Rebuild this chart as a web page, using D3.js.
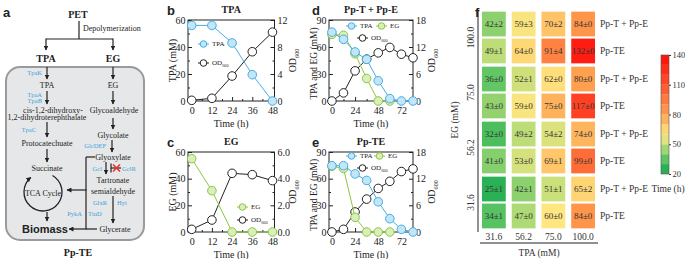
<!DOCTYPE html>
<html>
<head>
<meta charset="utf-8">
<script src="https://cdn.jsdelivr.net/npm/d3@7"></script>
<style>
body { margin: 0; background: #fff; }
svg { display: block; font-family: "Liberation Serif", "DejaVu Serif", serif; }
</style>
</head>
<body>
<div id="chart"></div>
<script>
// ---- data: growth curves (b-e) ----
const timeBC = [0, 12, 24, 36, 48];
const tpaB = [56, 56, 43, 19.5, 0];
const odB = [0.1, 0.4, 3.7, 7.3, 10.2];
const egC = [55, 31, 0, 0, 0];
const odC = [0.2, 0.9, 4.4, 4.3, 3.85];

const timeDE = [0, 12, 24, 36, 48, 60, 72, 84];
const tpaD = [76.5, 68.5, 54.5, 46.3, 22.5, 2.6, 0, 0];
const egD = [74, 73, 52.5, 25, 0, 0];
const odD = [0, 1.8, 6.7, 9.3, 10.7, 11.9, 10.4, 9.6];
const tpaE = [74.6, 74.6, 65.4, 58, 34, 15, 3, 0];
const egE = [74, 71.6, 16.5, 0, 0, 0];
const odE = [0, 0.6, 4.5, 7.4, 9.8, 11.4, 13.6, 14.2];

// ---- data: heatmap (f) ----
const tpaLevels = ["31.6", "56.2", "75.0", "100.0"];
const egLevels = ["100.0", "75.0", "56.2", "31.6"];
const strains = ["Pp-T + Pp-E", "Pp-TE"];
// one row per (EG level, strain), columns follow tpaLevels
const timeMean = [
  [42, 59, 70, 84], [49, 64, 91, 132],
  [36, 52, 62, 80], [43, 59, 75, 117],
  [32, 49, 54, 74], [41, 53, 69, 99],
  [25, 42, 51, 65], [34, 47, 60, 84]
];
const timeSd = [
  [2, 3, 2, 0], [1, 0, 4, 0],
  [0, 1, 0, 0], [0, 0, 0, 0],
  [0, 2, 2, 0], [0, 0, 1, 0],
  [1, 1, 1, 2], [1, 0, 0, 0]
];
const colorTicks = [20, 50, 80, 110, 140];

const W = 685, H = 259;
const blue = "#45aee2", blueFill = "#c2e5f7";
const green = "#8dc641", greenFill = "#d8eebb";
const ink = "#222";
const serif = '"Liberation Serif", "DejaVu Serif", serif';
const sans = '"Liberation Sans", Arial, sans-serif';

const svg = d3.select("#chart").append("svg")
  .attr("width", W).attr("height", H)
  .attr("viewBox", [0, 0, W, H]);

const defs = svg.append("defs");
defs.append("marker")
  .attr("id", "arr")
  .attr("viewBox", "0 0 10 10")
  .attr("refX", 9).attr("refY", 5)
  .attr("markerWidth", 5).attr("markerHeight", 5)
  .attr("markerUnits", "userSpaceOnUse")
  .attr("orient", "auto")
  .append("path").attr("d", "M0,0 L10,5 L0,10 z").attr("fill", ink);

function txt(g, x, y, s, o = {}) {
  return g.append("text")
    .attr("x", x).attr("y", y)
    .attr("text-anchor", o.anchor || "middle")
    .attr("dominant-baseline", "central")
    .style("font-family", o.family || serif)
    .style("font-size", (o.size || 8) + "px")
    .style("font-weight", o.bold ? "bold" : "normal")
    .style("fill", o.fill || ink)
    .text(s);
}
function arrow(g, x1, y1, x2, y2) {
  g.append("line").attr("x1", x1).attr("y1", y1).attr("x2", x2).attr("y2", y2)
    .attr("stroke", ink).attr("stroke-width", 1.2).attr("marker-end", "url(#arr)");
}
function seg(g, x1, y1, x2, y2, c = ink, w = 1.2) {
  g.append("line").attr("x1", x1).attr("y1", y1).attr("x2", x2).attr("y2", y2)
    .attr("stroke", c).attr("stroke-width", w);
}

// ================= panel a: pathway =================
const ga = svg.append("g");
txt(ga, 3, 12, "a", { family: sans, size: 13, bold: true, anchor: "start" });
txt(ga, 78, 14, "PET", { size: 10, bold: true });
seg(ga, 79, 21, 79, 39);
txt(ga, 83, 28, "Depolymerization", { size: 8, anchor: "start" });
seg(ga, 46, 39, 113, 39);
arrow(ga, 46, 38.4, 46, 50);
arrow(ga, 113, 38.4, 113, 50);
txt(ga, 46, 58, "TPA", { size: 10, bold: true });
txt(ga, 113, 58, "EG", { size: 10, bold: true });

ga.append("rect").attr("x", 6).attr("y", 67).attr("width", 138).attr("height", 173)
  .attr("rx", 14).attr("fill", "#e6e7e8").attr("stroke", "#9a9a9a").attr("stroke-width", 2);

const bl = { size: 6.5, fill: "#3ea3dc", anchor: "end" };
// TPA branch
txt(ga, 42, 72, "TpaK", bl);
arrow(ga, 47, 67, 47, 79);
txt(ga, 47, 85, "TPA", { size: 8 });
txt(ga, 42, 94, "TpaA", bl);
txt(ga, 42, 100, "TpaB", bl);
arrow(ga, 47, 91, 47, 104);
txt(ga, 53, 110, "cis-1,2-dihydroxy-", { size: 8 });
txt(ga, 47, 117.5, "1,2-dihydroterephthalate", { size: 8 });
txt(ga, 36, 129, "TpaC", bl);
arrow(ga, 47, 122, 47, 137);
txt(ga, 47, 143, "Protocatechuate", { size: 8 });
arrow(ga, 47, 149, 47, 162);
txt(ga, 47, 168, "Succinate", { size: 8 });

// TCA cycle ring
const cx = 43, cy = 192, r = 19;
const a0 = 30 * Math.PI / 180, a1 = -40 * Math.PI / 180;
ga.append("path")
  .attr("d", `M${cx + r * Math.sin(a0)},${cy - r * Math.cos(a0)} A${r},${r} 0 1 1 ${cx + r * Math.sin(a1)},${cy - r * Math.cos(a1)}`)
  .attr("fill", "none").attr("stroke", ink).attr("stroke-width", 1.3)
  .attr("marker-end", "url(#arr)");
txt(ga, 43, 193, "TCA Cycle", { size: 8 });
arrow(ga, 47, 212, 47, 221);
txt(ga, 45, 229, "Biomass", { family: sans, size: 11, bold: true });

// EG branch
arrow(ga, 113, 67, 113, 79);
txt(ga, 113, 85, "EG", { size: 8 });
arrow(ga, 113, 91, 113, 104);
txt(ga, 114, 110, "Glycoaldehyde", { size: 8 });
arrow(ga, 113, 118, 113, 129);
txt(ga, 113, 135, "Glycolate", { size: 8 });
txt(ga, 106, 145, "GlcDEF", bl);
arrow(ga, 112, 140, 112, 152);
txt(ga, 113, 157, "Glyoxylate", { size: 8 });
seg(ga, 86, 157, 95, 157);
seg(ga, 86, 157, 86, 229);
txt(ga, 102, 168, "Gcl", bl);
arrow(ga, 106, 162, 106, 174);
seg(ga, 111, 163.5, 111, 172.5);
seg(ga, 111, 168, 121, 168);
seg(ga, 113, 164.5, 120, 171.5, "#e8322b", 1.6);
seg(ga, 113, 171.5, 120, 164.5, "#e8322b", 1.6);
txt(ga, 122, 168, "GclR", { size: 6.5, fill: "#3ea3dc", anchor: "start" });
txt(ga, 113, 180, "Tartronate", { size: 8 });
txt(ga, 113, 191, "semialdehyde", { size: 8 });
arrow(ga, 86.6, 190, 67, 190);
txt(ga, 107, 202, "GlxR", bl);
txt(ga, 117, 202, "Hyi", { size: 6.5, fill: "#3ea3dc", anchor: "start" });
arrow(ga, 113, 196, 113, 223);
txt(ga, 82, 213, "PykA", bl);
txt(ga, 88, 213, "TtuD", { size: 6.5, fill: "#3ea3dc", anchor: "start" });
txt(ga, 115, 229, "Glycerate", { size: 8 });
seg(ga, 86, 229, 97, 229);
arrow(ga, 86.6, 229, 69, 229);
txt(ga, 78, 252, "Pp-TE", { size: 10, bold: true });

// ================= panels b-e: growth curves =================
function subOD(sel, size) {
  sel.text("OD");
  sel.append("tspan").attr("dy", size * 0.35).style("font-size", (size * 0.62) + "px").text("600");
}

function linePanel(p) {
  const g = svg.append("g");
  const x = d3.scaleLinear().domain(p.xDomain).range([p.left, p.right]);
  const yL = d3.scaleLinear().domain([0, p.yLMax]).range([p.bottom, p.top]);
  const yR = d3.scaleLinear().domain([0, p.yRMax]).range([p.bottom, p.top]);

  const styleAxis = a => {
    a.select(".domain").remove();
    a.selectAll("line").attr("stroke", ink);
    a.selectAll("text").style("font-family", serif).style("font-size", "10px").attr("fill", ink);
  };
  const minor = ticks => ticks.slice(0, -1).map((t, i) => (t + ticks[i + 1]) / 2);

  g.append("g").attr("transform", `translate(0,${p.bottom})`)
    .call(d3.axisBottom(x).tickValues(p.xTicks).tickSize(-4).tickPadding(6)).call(styleAxis);
  g.append("g").attr("transform", `translate(0,${p.bottom})`)
    .call(d3.axisBottom(x).tickValues(p.xMinor).tickSize(-2).tickFormat("")).call(styleAxis);
  g.append("g").attr("transform", `translate(${p.left},0)`)
    .call(d3.axisLeft(yL).tickValues(p.yLTicks).tickSize(-4).tickPadding(2.5)).call(styleAxis);
  g.append("g").attr("transform", `translate(${p.left},0)`)
    .call(d3.axisLeft(yL).tickValues(minor(p.yLTicks)).tickSize(-2).tickFormat("")).call(styleAxis);
  g.append("g").attr("transform", `translate(${p.right},0)`)
    .call(d3.axisRight(yR).tickValues(p.yRTicks).tickSize(-4).tickPadding(3)).call(styleAxis);
  g.append("g").attr("transform", `translate(${p.right},0)`)
    .call(d3.axisRight(yR).tickValues(minor(p.yRTicks)).tickSize(-2).tickFormat("")).call(styleAxis);

  g.append("rect").attr("x", p.left).attr("y", p.top)
    .attr("width", p.right - p.left).attr("height", p.bottom - p.top)
    .attr("fill", "none").attr("stroke", ink).attr("stroke-width", 1);

  // series
  p.series.forEach(s => {
    const y = s.axis === "right" ? yR : yL;
    const pts = s.values.map((v, i) => [p.time[i], v]);
    g.append("path").datum(pts)
      .attr("fill", "none").attr("stroke", s.color).attr("stroke-width", 1)
      .attr("d", d3.line().x(d => x(d[0])).y(d => y(d[1])));
    g.selectAll(null).data(pts).join("circle")
      .attr("cx", d => x(d[0])).attr("cy", d => y(d[1])).attr("r", 4.3)
      .attr("fill", s.fill).attr("stroke", s.color).attr("stroke-width", 1);
  });

  // labels
  const mx = (p.left + p.right) / 2, my = (p.top + p.bottom) / 2;
  txt(g, p.letterX, p.top - 10, p.letter, { family: sans, size: 13, bold: true, anchor: "start" });
  txt(g, mx, p.top - 11, p.title, { size: 10, bold: true });
  txt(g, mx, p.bottom + 22, "Time (h)", { size: 10 });
  txt(g, 0, 0, p.yLabel, { size: p.yLabelSize || 10 })
    .attr("transform", `translate(${p.left - p.yLabelOff},${my + (p.yLabelShift || 0)}) rotate(-90)`);
  txt(g, 0, 0, "", { size: 10 })
    .attr("transform", `translate(${p.right + 18},${my}) rotate(-90)`)
    .call(s => subOD(s, 10));

  // legend
  p.legend.forEach(l => {
    seg(g, l.x, l.y, l.x + 11, l.y, l.color, 1);
    g.append("circle").attr("cx", l.x + 5.5).attr("cy", l.y).attr("r", 3.3)
      .attr("fill", l.fill).attr("stroke", l.color).attr("stroke-width", 1);
    const t = txt(g, l.x + 14, l.y, "", { size: 7, anchor: "start" });
    if (l.od) subOD(t, 7); else t.text(l.label);
  });
}

const tpaS = v => ({ values: v, axis: "left", color: blue, fill: blueFill });
const egS = v => ({ values: v, axis: "left", color: green, fill: greenFill });
const odS = v => ({ values: v, axis: "right", color: ink, fill: "#fff" });

linePanel({
  letter: "b", letterX: 167, title: "TPA", yLabel: "TPA (mM)", yLabelOff: 16,
  left: 188, right: 274.5, top: 20, bottom: 101,
  xDomain: [-2.2, 49.2], xTicks: [0, 12, 24, 36, 48], xMinor: [6, 18, 30, 42],
  yLMax: 60, yLTicks: [0, 20, 40, 60], yRMax: 12, yRTicks: [0, 4, 8, 12],
  time: timeBC,
  series: [odS(odB), tpaS(tpaB)],
  legend: [
    { x: 198, y: 44, color: blue, fill: blueFill, label: "TPA" },
    { x: 198, y: 63, color: ink, fill: "#fff", od: true }
  ]
});
linePanel({
  letter: "c", letterX: 167, title: "EG", yLabel: "EG (mM)", yLabelOff: 16,
  left: 188, right: 274.5, top: 152, bottom: 232,
  xDomain: [-2.2, 49.2], xTicks: [0, 12, 24, 36, 48], xMinor: [6, 18, 30, 42],
  yLMax: 60, yLTicks: [0, 20, 40, 60], yRMax: 6, yRTicks: [0, 2, 4, 6],
  time: timeBC,
  series: [odS(odC), egS(egC)],
  legend: [
    { x: 237, y: 207, color: green, fill: greenFill, label: "EG" },
    { x: 237, y: 220, color: ink, fill: "#fff", od: true }
  ]
});
linePanel({
  letter: "d", letterX: 312, title: "Pp-T + Pp-E", yLabel: "TPA and EG (mM)",
  yLabelOff: 15, yLabelSize: 9.5, yLabelShift: 3,
  left: 329, right: 413, top: 20, bottom: 101,
  xDomain: [-3, 84], xTicks: [0, 24, 48, 72], xMinor: [12, 36, 60, 84],
  yLMax: 90, yLTicks: [0, 30, 60, 90], yRMax: 18, yRTicks: [0, 6, 12, 18],
  time: timeDE,
  series: [odS(odD), egS(egD), tpaS(tpaD)],
  legend: [
    { x: 346, y: 26, color: blue, fill: blueFill, label: "TPA" },
    { x: 376, y: 26, color: green, fill: greenFill, label: "EG" },
    { x: 357, y: 38, color: ink, fill: "#fff", od: true }
  ]
});
linePanel({
  letter: "e", letterX: 312, title: "Pp-TE", yLabel: "TPA and EG (mM)",
  yLabelOff: 15, yLabelSize: 9.5, yLabelShift: 3,
  left: 329, right: 413, top: 152, bottom: 232,
  xDomain: [-3, 84], xTicks: [0, 24, 48, 72], xMinor: [12, 36, 60, 84],
  yLMax: 90, yLTicks: [0, 30, 60, 90], yRMax: 18, yRTicks: [0, 6, 12, 18],
  time: timeDE,
  series: [odS(odE), egS(egE), tpaS(tpaE)],
  legend: [
    { x: 346, y: 156, color: blue, fill: blueFill, label: "TPA" },
    { x: 374, y: 156, color: green, fill: greenFill, label: "EG" },
    { x: 357, y: 168, color: ink, fill: "#fff", od: true }
  ]
});

// ================= panel f: heatmap =================
const gf = svg.append("g");
txt(gf, 475, 12, "f", { family: sans, size: 13, bold: true, anchor: "start" });

const color = d3.scaleLinear()
  .domain([20, 35, 50, 60, 80, 100, 120, 140])
  .range(["#12a84e", "#5cc462", "#c3df7a", "#ffe680", "#ffa050", "#ff6a36", "#ff3a20", "#ff0a0a"])
  .clamp(true);

const xCol = d3.scaleBand().domain(tpaLevels).range([479, 598]).paddingInner(0.2).paddingOuter(0.1);
const yGroup = d3.scaleBand().domain(egLevels).range([10, 230]).paddingInner(0.06).paddingOuter(0.03);
const yRow = d3.scaleBand().domain(strains).range([0, yGroup.bandwidth()]).paddingInner(0.08);

const cells = [];
egLevels.forEach((eg, gi) => strains.forEach((st, si) => tpaLevels.forEach((tp, ci) => {
  const r = gi * 2 + si;
  cells.push({ eg, st, tp, m: timeMean[r][ci], sd: timeSd[r][ci] });
})));

const cell = gf.selectAll(".cell").data(cells).join("g").attr("class", "cell");
cell.append("rect")
  .attr("x", d => xCol(d.tp))
  .attr("y", d => yGroup(d.eg) + yRow(d.st))
  .attr("width", xCol.bandwidth())
  .attr("height", yRow.bandwidth())
  .attr("fill", d => color(d.m));
cell.append("text")
  .attr("x", d => xCol(d.tp) + xCol.bandwidth() / 2)
  .attr("y", d => yGroup(d.eg) + yRow(d.st) + yRow.bandwidth() / 2)
  .attr("text-anchor", "middle").attr("dominant-baseline", "central")
  .style("font-size", "9px").style("fill", "#333")
  .text(d => `${d.m}±${d.sd}`);

// row labels
egLevels.forEach(eg => strains.forEach(st => {
  txt(gf, 600, yGroup(eg) + yRow(st) + yRow.bandwidth() / 2, st, { size: 9.5, anchor: "start", fill: "#333" });
}));

// axes
seg(gf, 478, 10, 478, 232, ink, 1);
seg(gf, 480, 243, 598, 243, ink, 1);
egLevels.forEach(eg => {
  txt(gf, 0, 0, eg, { size: 9.5, fill: "#333" })
    .attr("transform", `translate(471,${yGroup(eg) + yGroup.bandwidth() / 2}) rotate(-90)`);
});
tpaLevels.forEach(tp => {
  txt(gf, xCol(tp) + xCol.bandwidth() / 2, 236.5, tp, { size: 9.5, fill: "#333" });
});
txt(gf, 539, 252.5, "TPA (mM)", { size: 9.5, fill: "#333" });
txt(gf, 0, 0, "EG (mM)", { size: 9.5, fill: "#333" })
  .attr("transform", `translate(455,120) rotate(-90)`);

// colour bar
const yBar = d3.scaleLinear().domain([20, 140]).range([174, 55]);
const bands = d3.range(20, 140, 10);
gf.selectAll(".band").data(bands).join("rect").attr("class", "band")
  .attr("x", 661).attr("width", 8)
  .attr("y", d => yBar(d + 10)).attr("height", d => yBar(d) - yBar(d + 10))
  .attr("fill", d => color(d + 5));
gf.append("rect").attr("x", 661).attr("y", yBar(140)).attr("width", 8)
  .attr("height", yBar(20) - yBar(140)).attr("fill", "none").attr("stroke", "#555").attr("stroke-width", 0.6);
gf.append("g").attr("transform", "translate(669,0)")
  .call(d3.axisRight(yBar).tickValues(colorTicks).tickSize(2).tickPadding(1.5))
  .call(a => {
    a.select(".domain").remove();
    a.selectAll("line").attr("stroke", "#333");
    a.selectAll("text").style("font-family", serif).style("font-size", "8.5px").attr("fill", "#333");
  });
txt(gf, 668, 189, "Time (h)", { size: 9.5, fill: "#333" });
</script>
</body>
</html>
